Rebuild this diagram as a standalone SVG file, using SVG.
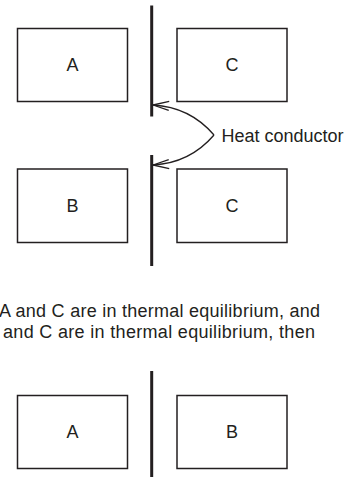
<svg xmlns="http://www.w3.org/2000/svg" width="360" height="477" viewBox="0 0 360 477">
  <defs>
    <style>
      .box { fill: #ffffff; stroke: #231f20; stroke-width: 1.5; }
      .wall { stroke: #231f20; stroke-width: 3; fill: none; }
      .lbl { font-family: "Liberation Sans", Arial, sans-serif; font-size: 18px; fill: #231f20; text-anchor: middle; }
      .txt { font-family: "Liberation Sans", Arial, sans-serif; font-size: 18px; fill: #231f20; }
      .conn { fill: none; stroke: #231f20; stroke-width: 1.3; }
    </style>
    <marker id="open" markerUnits="userSpaceOnUse" markerWidth="20" markerHeight="12" viewBox="-17 -6 19 12" refX="0" refY="0" orient="auto">
      <path d="M-16,-4.5 L0,0 L-16,4.5" fill="none" stroke="#231f20" stroke-width="1.3"/>
    </marker>
  </defs>
  <rect width="360" height="477" fill="#ffffff"/>

  <g id="walls">
    <line class="wall" x1="151.7" y1="5.5" x2="151.7" y2="116.5"/>
    <line class="wall" x1="151.7" y1="155" x2="151.7" y2="266"/>
    <line class="wall" x1="151.7" y1="371" x2="151.7" y2="477"/>
  </g>

  <g id="top-A"><rect class="box" x="17.5" y="28.5" width="110" height="73"/><text class="lbl" x="72.5" y="71">A</text></g>
  <g id="top-C"><rect class="box" x="177" y="28.5" width="110" height="73"/><text class="lbl" x="232" y="71">C</text></g>
  <g id="mid-B"><rect class="box" x="17.5" y="169" width="110" height="73.5"/><text class="lbl" x="72.5" y="212">B</text></g>
  <g id="mid-C"><rect class="box" x="177" y="169" width="110" height="73.5"/><text class="lbl" x="232" y="212">C</text></g>
  <g id="bot-A"><rect class="box" x="17.5" y="395.5" width="110" height="73"/><text class="lbl" x="72.5" y="438">A</text></g>
  <g id="bot-B"><rect class="box" x="177" y="395.5" width="110" height="73"/><text class="lbl" x="232" y="438">B</text></g>

  <g id="connectors">
    <path class="conn" d="M214,135 Q190,107 153,105" marker-end="url(#open)"/>
    <path class="conn" d="M214,135 Q190,163 153,165" marker-end="url(#open)"/>
  </g>

  <g id="heat-label"><text class="txt" x="221.5" y="142">Heat conductor</text></g>

  <g id="caption">
    <text class="txt" x="-1" y="316.7" textLength="321">A and C are in thermal equilibrium, and</text>
    <text class="txt" x="3" y="338.3" textLength="312">and C are in thermal equilibrium, then</text>
  </g>
</svg>
